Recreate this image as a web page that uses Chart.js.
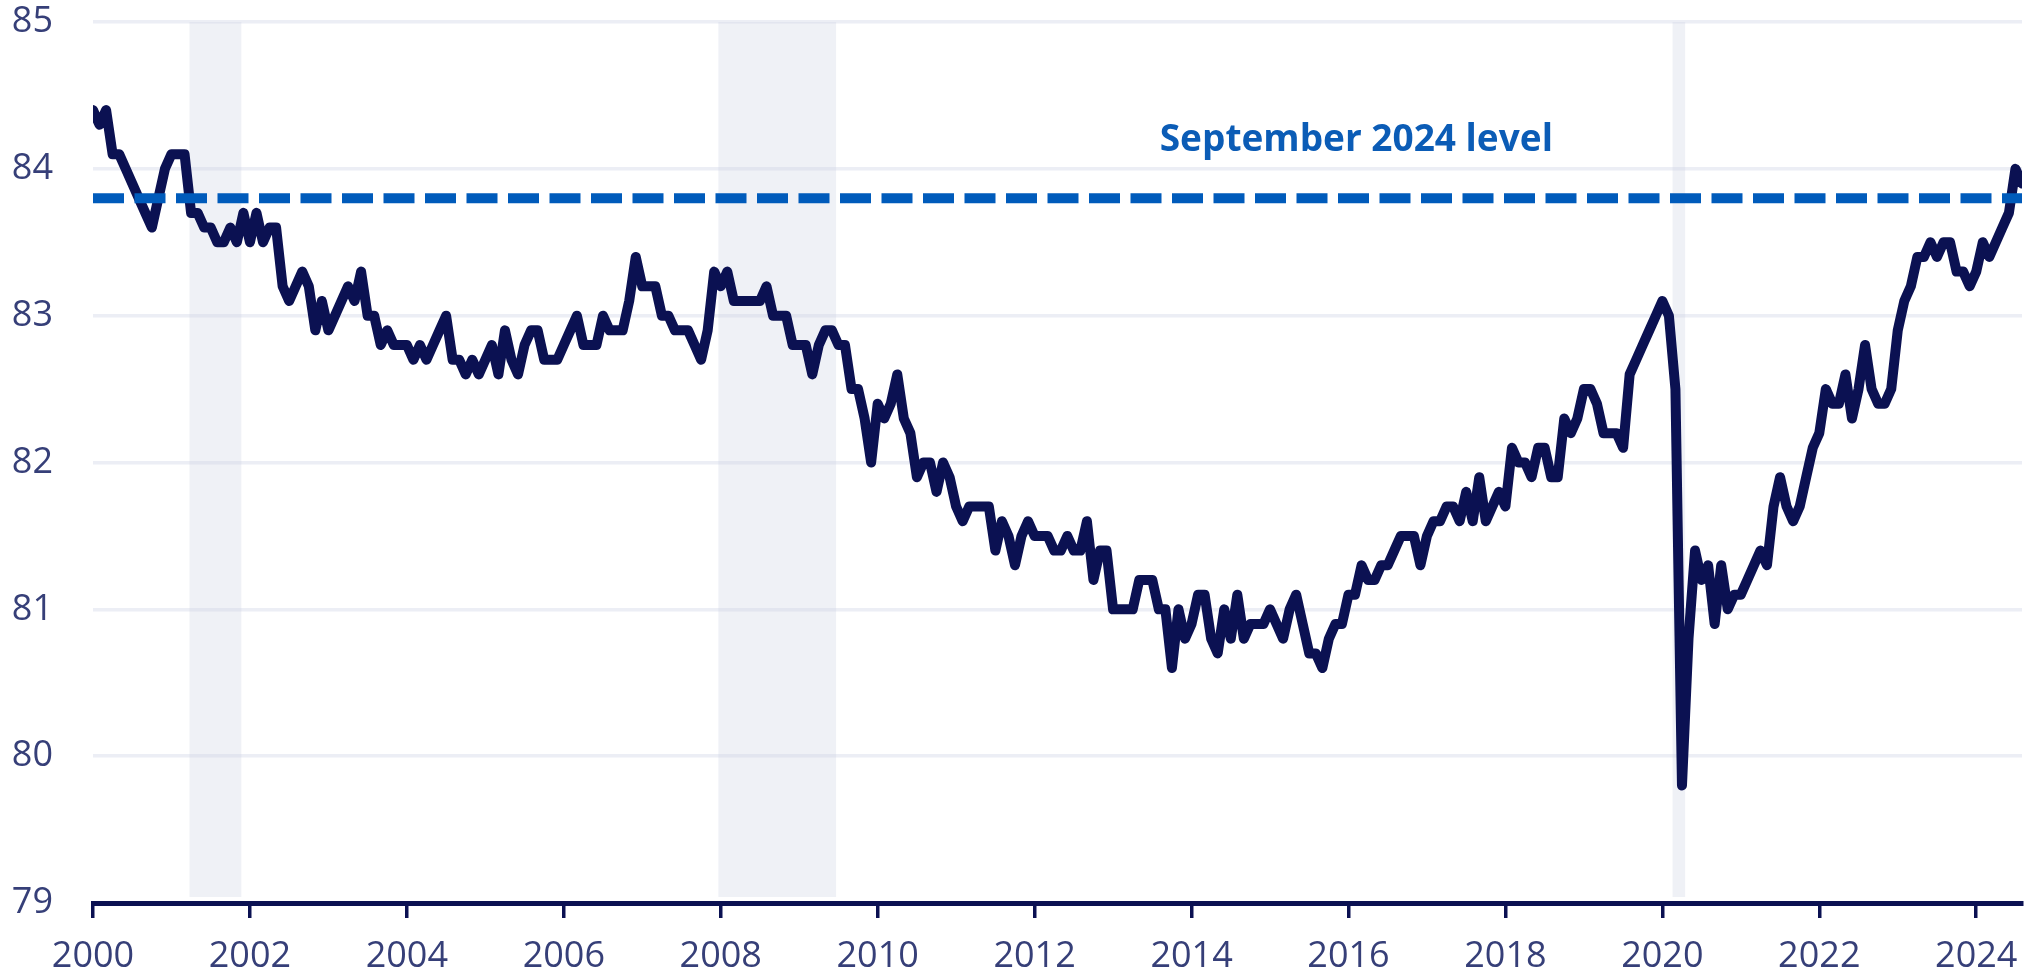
<!DOCTYPE html>
<html>
<head>
<meta charset="utf-8">
<script src="https://cdn.jsdelivr.net/npm/chart.js@4.4.1/dist/chart.umd.min.js"></script>
<style>
  html, body { margin: 0; padding: 0; background: #ffffff; }
  #wrap { width: 2042px; height: 979px; }
</style>
</head>
<body>
<div id="wrap"><canvas id="c" width="2042" height="979"></canvas></div>
<script>
// ---- Data: monthly values starting January 2000 ----
const startYear = 2000;
const lfprValues = [
  84.4, 84.3, 84.4, 84.1, 84.1, 84.0, 83.9, 83.8, 83.7, 83.6, 83.8, 84.0, // 2000
  84.1, 84.1, 84.1, 83.7, 83.7, 83.6, 83.6, 83.5, 83.5, 83.6, 83.5, 83.7, // 2001
  83.5, 83.7, 83.5, 83.6, 83.6, 83.2, 83.1, 83.2, 83.3, 83.2, 82.9, 83.1, // 2002
  82.9, 83.0, 83.1, 83.2, 83.1, 83.3, 83.0, 83.0, 82.8, 82.9, 82.8, 82.8, // 2003
  82.8, 82.7, 82.8, 82.7, 82.8, 82.9, 83.0, 82.7, 82.7, 82.6, 82.7, 82.6, // 2004
  82.7, 82.8, 82.6, 82.9, 82.7, 82.6, 82.8, 82.9, 82.9, 82.7, 82.7, 82.7, // 2005
  82.8, 82.9, 83.0, 82.8, 82.8, 82.8, 83.0, 82.9, 82.9, 82.9, 83.1, 83.4, // 2006
  83.2, 83.2, 83.2, 83.0, 83.0, 82.9, 82.9, 82.9, 82.8, 82.7, 82.9, 83.3, // 2007
  83.2, 83.3, 83.1, 83.1, 83.1, 83.1, 83.1, 83.2, 83.0, 83.0, 83.0, 82.8, // 2008
  82.8, 82.8, 82.6, 82.8, 82.9, 82.9, 82.8, 82.8, 82.5, 82.5, 82.3, 82.0, // 2009
  82.4, 82.3, 82.4, 82.6, 82.3, 82.2, 81.9, 82.0, 82.0, 81.8, 82.0, 81.9, // 2010
  81.7, 81.6, 81.7, 81.7, 81.7, 81.7, 81.4, 81.6, 81.5, 81.3, 81.5, 81.6, // 2011
  81.5, 81.5, 81.5, 81.4, 81.4, 81.5, 81.4, 81.4, 81.6, 81.2, 81.4, 81.4, // 2012
  81.0, 81.0, 81.0, 81.0, 81.2, 81.2, 81.2, 81.0, 81.0, 80.6, 81.0, 80.8, // 2013
  80.9, 81.1, 81.1, 80.8, 80.7, 81.0, 80.8, 81.1, 80.8, 80.9, 80.9, 80.9, // 2014
  81.0, 80.9, 80.8, 81.0, 81.1, 80.9, 80.7, 80.7, 80.6, 80.8, 80.9, 80.9, // 2015
  81.1, 81.1, 81.3, 81.2, 81.2, 81.3, 81.3, 81.4, 81.5, 81.5, 81.5, 81.3, // 2016
  81.5, 81.6, 81.6, 81.7, 81.7, 81.6, 81.8, 81.6, 81.9, 81.6, 81.7, 81.8, // 2017
  81.7, 82.1, 82.0, 82.0, 81.9, 82.1, 82.1, 81.9, 81.9, 82.3, 82.2, 82.3, // 2018
  82.5, 82.5, 82.4, 82.2, 82.2, 82.2, 82.1, 82.6, 82.7, 82.8, 82.9, 83.0, // 2019
  83.1, 83.0, 82.5, 79.8, 80.8, 81.4, 81.2, 81.3, 80.9, 81.3, 81.0, 81.1, // 2020
  81.1, 81.2, 81.3, 81.4, 81.3, 81.7, 81.9, 81.7, 81.6, 81.7, 81.9, 82.1, // 2021
  82.2, 82.5, 82.4, 82.4, 82.6, 82.3, 82.5, 82.8, 82.5, 82.4, 82.4, 82.5, // 2022
  82.9, 83.1, 83.2, 83.4, 83.4, 83.5, 83.4, 83.5, 83.5, 83.3, 83.3, 83.2, // 2023
  83.3, 83.5, 83.4, 83.5, 83.6, 83.7, 84.0, 83.9                          // 2024
];
const referenceLevel = 83.8;
const referenceLabel = 'September 2024 level';
const tickYears = [2000, 2002, 2004, 2006, 2008, 2010, 2012, 2014, 2016, 2018, 2020, 2022, 2024];
const yTickValues = [79, 80, 81, 82, 83, 84, 85];
const recessionStarts = [2001.23, 2007.97, 2020.13];
const recessionEnds   = [2001.89, 2009.47, 2020.29];

// ---- Build points ----
const lfprPoints = lfprValues.map((v, i) => ({ x: startYear + i / 12, y: v }));
const xMax = startYear + (lfprValues.length - 1) / 12;
const refPoints = [{ x: startYear, y: referenceLevel }, { x: xMax, y: referenceLevel }];

const navy = '#0b1152';
const blue = '#005bbb';
const labelColor = '#363f78';

const overlayPlugin = {
  id: 'overlay',
  beforeDatasetsDraw(chart) {
    const { ctx, chartArea, scales } = chart;
    ctx.save();
    ctx.fillStyle = 'rgba(205, 210, 228, 0.32)';
    for (let i = 0; i < recessionStarts.length; i++) {
      const x0 = scales.x.getPixelForValue(recessionStarts[i]);
      const x1 = scales.x.getPixelForValue(recessionEnds[i]);
      ctx.fillRect(x0, chartArea.top, x1 - x0, chartArea.bottom - chartArea.top - 6);
    }
    ctx.restore();
  },
  afterDatasetsDraw(chart) {
    const { ctx, scales } = chart;
    ctx.save();
    ctx.font = 'bold 37px "Open Sans"';
    ctx.fillStyle = '#0b5cb6';
    ctx.textAlign = 'center';
    ctx.textBaseline = 'middle';
    ctx.fillText(referenceLabel, scales.x.getPixelForValue(2016.1), scales.y.getPixelForValue(84.19));
    ctx.restore();
  }
};

new Chart(document.getElementById('c'), {
  type: 'line',
  data: {
    datasets: [
      {
        label: referenceLabel,
        data: refPoints,
        borderColor: blue,
        borderWidth: 10,
        borderDash: [31, 10.5],
        pointRadius: 0,
        fill: false
      },
      {
        label: 'Participation rate',
        data: lfprPoints,
        borderColor: navy,
        borderWidth: 10,
        borderJoinStyle: 'round',
        borderCapStyle: 'round',
        pointRadius: 0,
        tension: 0,
        fill: false
      }
    ]
  },
  options: {
    responsive: false,
    animation: false,
    devicePixelRatio: 1,
    layout: { padding: { top: 22, right: 20, left: 0, bottom: 0 } },
    plugins: { legend: { display: false }, tooltip: { enabled: false } },
    scales: {
      x: {
        type: 'linear',
        min: startYear,
        max: xMax,
        afterBuildTicks(scale) { scale.ticks = tickYears.map(v => ({ value: v })); },
        afterFit(scale) { scale.height = 76; scale.paddingLeft = 0; scale.paddingRight = 0; },
        ticks: {
          autoSkip: false,
          maxRotation: 0,
          padding: 17,
          color: labelColor,
          font: { family: 'Open Sans', size: 36 },
          callback: v => String(v)
        },
        grid: { drawOnChartArea: false, drawTicks: true, tickLength: 15, color: navy, lineWidth: 3.5 },
        border: { display: true, color: navy, width: 5 }
      },
      y: {
        min: 79,
        max: 85,
        afterBuildTicks(scale) { scale.ticks = yTickValues.map(v => ({ value: v })); },
        afterFit(scale) { scale.width = 93; scale.paddingTop = 0; scale.paddingBottom = 0; },
        ticks: {
          padding: 40,
          color: labelColor,
          font: { family: 'Open Sans', size: 36 },
          callback: v => String(v)
        },
        grid: { drawTicks: false, color: '#eceef5', lineWidth: 3.5 },
        border: { display: false }
      }
    }
  },
  plugins: [overlayPlugin]
});
</script>
</body>
</html>
